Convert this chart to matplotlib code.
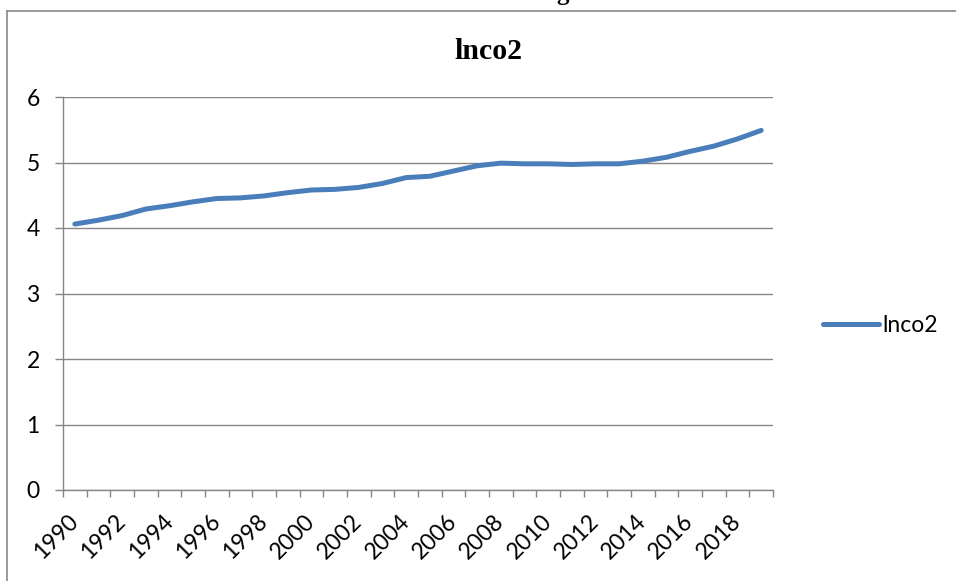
import matplotlib
matplotlib.use("Agg")
import matplotlib.pyplot as plt
from matplotlib.lines import Line2D
from matplotlib.ticker import FixedLocator

years = list(range(1990, 2020))
lnco2 = [4.06, 4.12, 4.19, 4.29, 4.34, 4.40, 4.45, 4.46, 4.49, 4.54,
         4.58, 4.59, 4.62, 4.68, 4.77, 4.79, 4.87, 4.95, 4.99, 4.98,
         4.98, 4.97, 4.98, 4.98, 5.02, 5.08, 5.17, 5.25, 5.36, 5.49]
yticks = [0, 1, 2, 3, 4, 5, 6]
series_name = "lnco2"

W, H = 956, 581
fig = plt.figure(figsize=(W / 100, H / 100), dpi=100)
fig.patch.set_facecolor("white")

# plot area in pixel terms
left, right, top, bottom = 63, 773, 97, 490
ax = fig.add_axes([left / W, 1 - bottom / H, (right - left) / W, (bottom - top) / H])

grey = "#868686"
fs = 16.5
x = list(range(len(years)))
ax.plot(x, lnco2, color="#4A7EBB", lw=3.6, solid_capstyle="round",
        solid_joinstyle="round", label=series_name, zorder=3)

ax.set_xlim(-0.5, len(years) - 0.5)
ax.set_ylim(0, 6)

for s in ["top", "right"]:
    ax.spines[s].set_visible(False)
for s in ["left", "bottom"]:
    ax.spines[s].set_color(grey)
    ax.spines[s].set_linewidth(1.0)

ax.set_yticks(yticks)
ax.yaxis.grid(True, color=grey, lw=1.0)
ax.set_axisbelow(True)
ax.tick_params(axis="y", length=5.8, width=1.0, color=grey, pad=11,
               labelsize=fs)

# category labels every other year, tick marks on category boundaries
ax.set_xticks(x[::2])
ax.set_xticklabels([str(y) for y in years[::2]])
ax.xaxis.set_minor_locator(FixedLocator([i - 0.5 for i in range(len(years) + 1)]))
ax.tick_params(axis="x", which="major", length=0, pad=20, labelsize=fs)
ax.tick_params(axis="x", which="minor", length=5, width=1.0, color=grey)
for lab in ax.get_xticklabels():
    lab.set_rotation(45)
    lab.set_ha("right")
    lab.set_va("center")
    lab.set_rotation_mode("anchor")

for lab in ax.get_xticklabels() + ax.get_yticklabels():
    lab.set_fontfamily("Lato")

fig.text(488 / W, 1 - 59 / H, "lnco2", ha="center", va="baseline",
         family="Liberation Serif", fontweight="bold", fontsize=21.5)

fig.text(563 / W, 1 - 0 / H, "g", ha="center", va="baseline",
         family="Liberation Serif", fontweight="bold", fontsize=18)

leg = ax.legend(loc="center left", bbox_to_anchor=(823 / W, 1 - 326 / H),
                bbox_transform=fig.transFigure, frameon=False,
                handlelength=2.45, handletextpad=0.15, borderpad=0,
                borderaxespad=0, prop={"family": "Lato", "size": fs})

# outer frame lines
fig.add_artist(Line2D([7 / W, 7 / W], [0, 1 - 11 / H], color="#888888",
                      lw=1.2, transform=fig.transFigure))
fig.add_artist(Line2D([7 / W, 1], [1 - 11 / H, 1 - 11 / H], color="#888888",
                      lw=1.2, transform=fig.transFigure))

fig.savefig("out.png", dpi=100)
